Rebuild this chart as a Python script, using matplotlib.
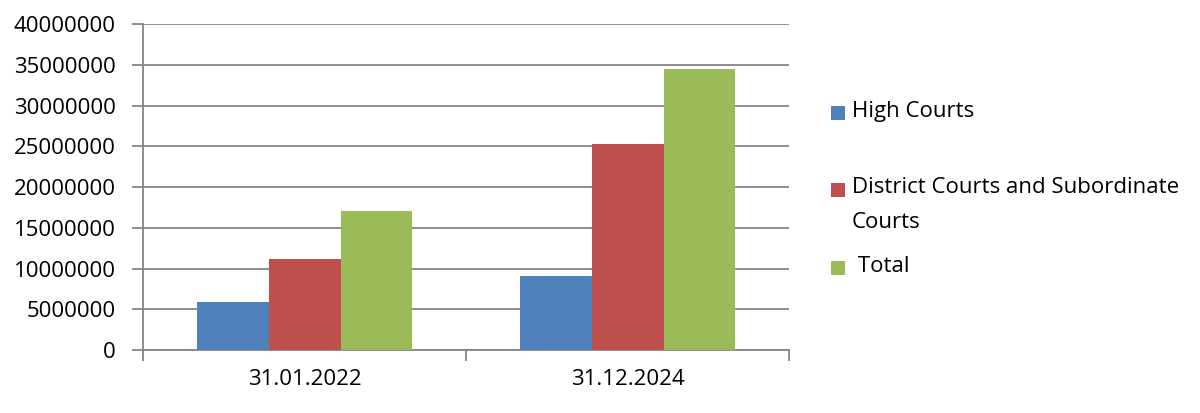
import matplotlib
matplotlib.use("Agg")
import matplotlib.pyplot as plt
from matplotlib.patches import Rectangle

plt.rcParams['font.family'] = ['Open Sans', 'DejaVu Sans']

# data
dates = ['31.01.2022', '31.12.2024']
high_courts = [5930000, 9090000]
district_courts = [11140000, 25270000]
total = [17110000, 34560000]

series_labels = ['High Courts', 'District Courts and Subordinate\nCourts', ' Total']
series_values = [high_courts, district_courts, total]
colors = ['#4F81BD', '#C0504D', '#9BBB59']

fig = plt.figure(figsize=(12, 4.13), dpi=100)
fig.patch.set_facecolor('white')
ax = fig.add_axes([0.1194, 0.1525, 0.5383, 0.7886])

bw = 1 / 4.5
x = range(len(dates))
for k, (vals, c) in enumerate(zip(series_values, colors)):
    ax.bar([i + (k - 1) * bw for i in x], vals, width=bw, color=c, zorder=3)

grid_c = '#868686'
fs = 16
ax.set_xlim(-0.5, len(dates) - 0.5)
ax.set_ylim(0, 40000000)
ax.set_yticks(range(0, 40000001, 5000000))
ax.set_yticklabels([str(v) for v in range(0, 40000001, 5000000)])
ax.yaxis.grid(True, color=grid_c, linewidth=1.3, zorder=0)

# category boundaries as major ticks, labels on minor ticks
ax.set_xticks([-0.5, 0.5, 1.5])
ax.set_xticklabels([])
ax.set_xticks(list(x), minor=True)
ax.set_xticklabels(dates, minor=True)
ax.tick_params(axis='x', which='minor', length=0, pad=14, labelsize=fs)
ax.tick_params(axis='x', which='major', length=8, width=1.3, color=grid_c, direction='out')
ax.tick_params(axis='y', length=8, width=1.3, color=grid_c, pad=12, labelsize=fs)

for s in ['top', 'right']:
    ax.spines[s].set_visible(False)
for s in ['left', 'bottom']:
    ax.spines[s].set_color(grid_c)
    ax.spines[s].set_linewidth(1.3)

# legend drawn by hand to follow the original spacing
W, H = 1200, 413
marker_y = [113, 190, 268]
text_y = [112, 205, 267]
for lab, c, my, ty in zip(series_labels, colors, marker_y, text_y):
    fig.patches.append(Rectangle((831 / W, 1 - (my + 7) / H), 14 / W, 14 / H,
                                 transform=fig.transFigure, facecolor=c, edgecolor='none'))
    fig.text(852 / W, 1 - ty / H, lab, fontsize=fs, va='center', ha='left',
             linespacing=1.85)

fig.savefig('out.png', dpi=100)
